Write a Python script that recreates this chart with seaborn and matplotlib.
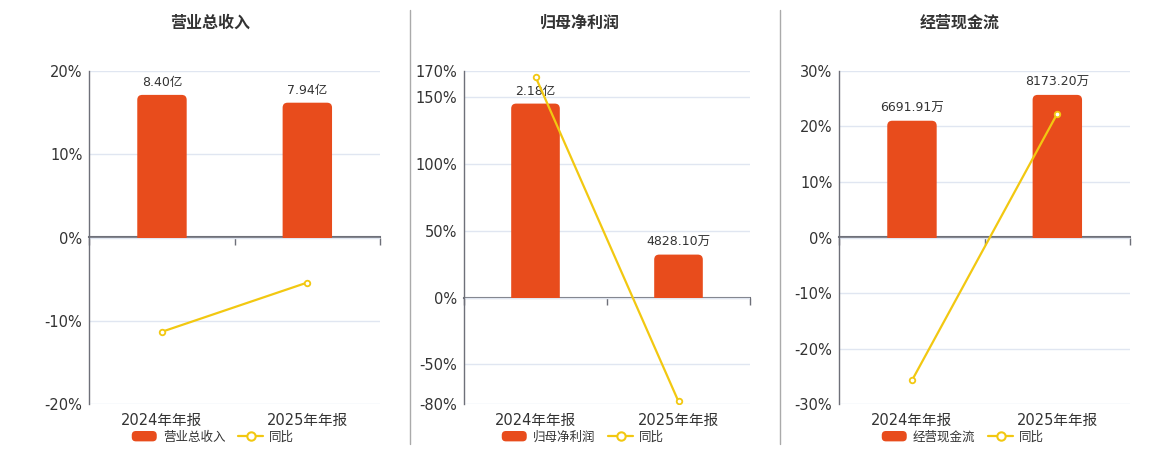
import matplotlib
matplotlib.use('Agg')
import matplotlib.pyplot as plt
import seaborn as sns
from matplotlib.patches import FancyBboxPatch, Patch, Rectangle
from matplotlib.lines import Line2D
from matplotlib.legend_handler import HandlerPatch

categories = ['2024年年报', '2025年年报']

revenue = [8.40, 7.94]              # 亿
revenue_labels = ['8.40亿', '7.94亿']
revenue_yoy = [-11.3, -5.4]

profit = [21800, 4828.10]           # 万
profit_labels = ['2.18亿', '4828.10万']
profit_yoy = [165.5, -77.9]

cashflow = [6691.91, 8173.20]       # 万
cashflow_labels = ['6691.91万', '8173.20万']
cashflow_yoy = [-25.7, 22.3]

titles = ['营业总收入', '归母净利润', '经营现金流']
yoy_label = '同比'

BAR = '#E84C1C'
LINE = '#F2C811'
GRID = '#E0E6F1'
AXIS = '#6E7079'
TEXT = '#333333'

sns.set_style('white')
plt.rcParams['font.family'] = ['DejaVu Sans', 'Noto Sans CJK SC']

W, H = 1160, 450
fig = plt.figure(figsize=(W / 100, H / 100), dpi=100)

panels = [
    dict(title=titles[0], vals=revenue, texts=revenue_labels, yoy=revenue_yoy,
         ylim=(-20, 20), ticks=[-20, -10, 0, 10, 20], left=89.3, right=380, mid=210),
    dict(title=titles[1], vals=profit, texts=profit_labels, yoy=profit_yoy,
         ylim=(-80, 170), ticks=[-80, -50, 0, 50, 100, 150, 170], left=464, right=750, mid=580),
    dict(title=titles[2], vals=cashflow, texts=cashflow_labels, yoy=cashflow_yoy,
         ylim=(-30, 30), ticks=[-30, -20, -10, 0, 10, 20, 30], left=839.3, right=1130, mid=960),
]

top_px, bottom_px = 70.7, 404.3


def round_rect(legend, orig_handle, xdescent, ydescent, width, height, fontsize):
    return FancyBboxPatch((-xdescent, -ydescent), width, height,
                          boxstyle='round,pad=0,rounding_size=3')


for p in panels:
    ax = fig.add_axes([p['left'] / W, 1 - bottom_px / H,
                       (p['right'] - p['left']) / W, (bottom_px - top_px) / H])
    lo, hi = p['ylim']
    ax.set_ylim(lo, hi)
    ax.set_xlim(-0.5, 1.5)
    ax.grid(axis='y', color=GRID, lw=1)
    ax.grid(axis='x', visible=False)
    for s in ['top', 'right', 'bottom']:
        ax.spines[s].set_visible(False)
    ax.spines['left'].set_color(AXIS)
    ax.spines['left'].set_linewidth(1)

    # bars on a hidden twin axis, zero aligned, tallest bar at 85.5% of top
    axb = ax.twinx()
    sns.barplot(x=categories, y=p['vals'], color=BAR, saturation=1, width=0.34, ax=axb)
    k = max(p['vals']) / (0.855 * hi)
    axb.set_ylim(lo * k, hi * k)
    axb.set_xlim(-0.5, 1.5)
    axb.bar_label(axb.containers[0], labels=p['texts'], padding=4, fontsize=9, color=TEXT)
    axb.axis('off')

    # swap the bars for ones with rounded top corners
    fig.canvas.draw()
    bbox = axb.get_window_extent()
    xupp = 2.0 / bbox.width
    yupp = (hi - lo) * k / bbox.height
    r = 5 * xupp
    ry = 5 * yupp
    for rect in list(axb.patches):
        x, y = rect.get_xy()
        w, h = rect.get_width(), rect.get_height()
        rounded = FancyBboxPatch((x, y - ry), w, h + ry,
                                 boxstyle=f'round,pad=0,rounding_size={r}',
                                 mutation_aspect=yupp / xupp, facecolor=BAR,
                                 edgecolor='none', zorder=rect.get_zorder())
        axb.add_patch(rounded)
        clip = Rectangle((x - w, y), 3 * w, h * 2, transform=axb.transData)
        rounded.set_clip_path(clip)
        rect.set_visible(False)

    # yoy line on another hidden twin with the percent scale
    axl = ax.twinx()
    sns.pointplot(x=categories, y=p['yoy'], color=LINE, errorbar=None, ax=axl,
                  markers='o', markersize=4, linewidth=1.6,
                  markerfacecolor='white', markeredgecolor=LINE, markeredgewidth=1.3)
    axl.set_ylim(lo, hi)
    axl.set_xlim(-0.5, 1.5)
    axl.axis('off')

    ax.set_yticks(p['ticks'], [f'{t}%' for t in p['ticks']])
    ax.tick_params(axis='y', length=0, pad=5, labelsize=10.5, labelcolor=TEXT)
    ax.set_xticks([0, 1], categories)
    ax.tick_params(axis='x', length=0, pad=6, labelsize=10.5, labelcolor=TEXT)
    ax.set_xlabel('')
    ax.set_ylabel('')

    # zero axis line with boundary ticks
    sec = ax.secondary_xaxis((0 - lo) / (hi - lo))
    sec.set_xticks([-0.5, 0.5, 1.5], ['', '', ''])
    sec.xaxis.set_ticks_position('bottom')
    sec.tick_params(axis='x', which='both', direction='out', length=5, width=1,
                    color=AXIS, bottom=True, top=False,
                    labelbottom=False, labeltop=False)
    for s in ['top', 'bottom']:
        sec.spines[s].set_color(AXIS)
        sec.spines[s].set_linewidth(1.5)

    fig.text(p['mid'] / W, 1 - 23 / H, p['title'], ha='center', va='center',
             fontsize=11.5, fontweight='bold', color=TEXT)

    handles = [Patch(facecolor=BAR, edgecolor='none', label=p['title']),
               Line2D([0], [0], color=LINE, lw=1.6, marker='o', markersize=6,
                      markerfacecolor='white', markeredgecolor=LINE,
                      markeredgewidth=1.5, label=yoy_label)]
    fig.legend(handles=handles, loc='center', bbox_to_anchor=((p['mid'] + 3) / W, 1 - 437 / H),
               bbox_transform=fig.transFigure, ncol=2, frameon=False, fontsize=9,
               handlelength=2.0, handleheight=0.9, columnspacing=1.0, handletextpad=0.5,
               labelcolor=TEXT, handler_map={Patch: HandlerPatch(patch_func=round_rect)})

for xs in [410, 780]:
    fig.add_artist(Line2D([xs / W, xs / W], [1 - 10 / H, 1 - 444 / H],
                          transform=fig.transFigure, color='#AAAAAA', lw=1))

fig.savefig('out.png', dpi=100)
